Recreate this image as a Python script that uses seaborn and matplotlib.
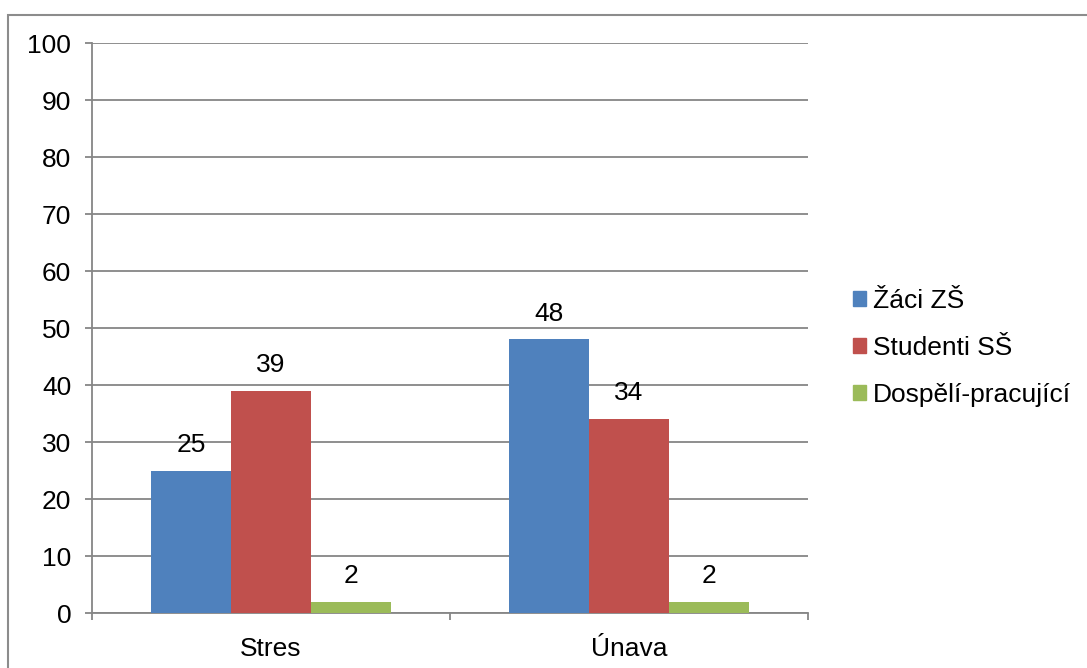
import pandas as pd
import seaborn as sns
import matplotlib.pyplot as plt
from matplotlib.patches import Rectangle

# === DATA ===
kategorie = ['Stres', 'Únava']
skupiny = ['Žáci ZŠ', 'Studenti SŠ', 'Dospělí-pracující']
zaci_zs = [25, 48]
studenti_ss = [39, 34]
dospeli = [2, 2]
barvy = ['#4F81BD', '#C0504D', '#9BBB59']

df = pd.DataFrame({
    'kategorie': kategorie * 3,
    'skupina': [s for s in skupiny for _ in kategorie],
    'hodnota': zaci_zs + studenti_ss + dospeli,
})

FS = 19

# === PLOT ===
sns.set_style('white')
plt.rcParams['font.family'] = ['Liberation Sans', 'DejaVu Sans']
plt.rcParams['text.color'] = 'black'

fig = plt.figure(figsize=(10.87, 6.68), dpi=100)
ax = fig.add_axes([0.0846, 0.0823, 0.6587, 0.8533])

# outer chart frame
fig.patches.append(Rectangle((8 / 1087, -0.05), 1.2, 1 - 15 / 668 + 0.05,
                             transform=fig.transFigure, fill=False,
                             edgecolor='#8c8c8c', linewidth=1.5))

sns.barplot(data=df, x='kategorie', y='hodnota', hue='skupina',
            hue_order=skupiny, palette=barvy, width=0.67, gap=0,
            saturation=1, linewidth=0, ax=ax, zorder=3)

for cont in ax.containers:
    ax.bar_label(cont, padding=10, fontsize=FS, color='black')

ax.set_ylim(0, 100)
ax.set_xlim(-0.5, 1.5)
ax.set_yticks(range(0, 101, 10))
ax.yaxis.grid(True, color='#868686', linewidth=1.3, zorder=0)
ax.set_axisbelow(True)
ax.set_xlabel('')
ax.set_ylabel('')

# category boundary ticks on x axis
ax.set_xticks([-0.5, 0.5, 1.5], minor=True)
ax.tick_params(axis='x', which='minor', bottom=True, length=5, width=1.3,
               color='#868686')
ax.tick_params(axis='x', which='major', bottom=False, length=0, pad=17,
               labelsize=FS, labelcolor='black')
ax.tick_params(axis='y', left=True, length=5, width=1.3, color='#868686',
               pad=10, labelsize=FS, labelcolor='black')

for side in ['top', 'right']:
    ax.spines[side].set_visible(False)
for side in ['left', 'bottom']:
    ax.spines[side].set_color('#868686')
    ax.spines[side].set_linewidth(1.3)

ax.legend_.remove()
handles = [Rectangle((0, 0), 1, 1, color=c) for c in barvy]
fig.legend(handles, skupiny, loc='center left', bbox_to_anchor=(0.777, 0.479),
           frameon=False, fontsize=FS, handlelength=0.5, handleheight=0.5,
           handletextpad=0.27, labelspacing=0.86, borderaxespad=0,
           borderpad=0.3, labelcolor='black')

plt.savefig('out.png', dpi=100)
